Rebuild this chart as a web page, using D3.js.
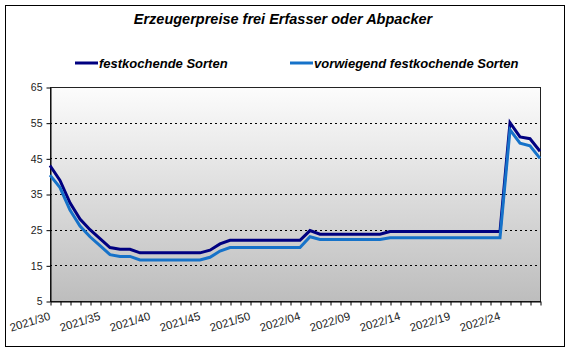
<!DOCTYPE html>
<html>
<head>
<meta charset="utf-8">
<script src="https://cdn.jsdelivr.net/npm/d3@7"></script>
<style>
  body { margin: 0; background: #fff; }
  svg { display: block; font-family: "Liberation Sans", Arial, sans-serif; }
</style>
</head>
<body>
<div id="chart"></div>
<script>
// weeks (one week around new year has no quote)
var weeks = [];
for (var w = 30; w <= 52; w++) weeks.push("2021/" + w);
weeks.push("2022/02", "2022/03");
for (var w2 = 4; w2 <= 28; w2++) weeks.push("2022/" + (w2 < 10 ? "0" + w2 : w2));

var festkochend = [
  43, 38.8, 32.5, 28, 25, 22.5, 20, 19.5, 19.5, 18.5,
  18.5, 18.5, 18.5, 18.5, 18.5, 18.5, 19.25, 21, 22, 22,
  22, 22, 22, 22, 22, 22, 24.75, 23.75, 23.75, 23.75,
  23.75, 23.75, 23.75, 23.75, 24.5, 24.5, 24.5, 24.5, 24.5, 24.5,
  24.5, 24.5, 24.5, 24.5, 24.5, 24.5, 55, 51, 50.5, 47
];
var vorwiegend = [
  40.3, 36.8, 30.5, 26, 23, 20.5, 18, 17.5, 17.5, 16.5,
  16.5, 16.5, 16.5, 16.5, 16.5, 16.5, 17.25, 19, 20, 20,
  20, 20, 20, 20, 20, 20, 23, 22.25, 22.25, 22.25,
  22.25, 22.25, 22.25, 22.25, 22.75, 22.75, 22.75, 22.75, 22.75, 22.75,
  22.75, 22.75, 22.75, 22.75, 22.75, 22.75, 53, 49.25, 48.5, 45
];
var yTicks = [5, 15, 25, 35, 45, 55, 65];
var seriesNames = ["festkochende Sorten", "vorwiegend festkochende Sorten"];
var seriesColors = ["#000080", "#1672c9"];

var width = 570, height = 352;
var plotLeft = 50, plotRight = 540, plotTop = 87, plotBottom = 301;

var svg = d3.select("#chart").append("svg")
    .attr("width", width)
    .attr("height", height);

// outer frame
svg.append("rect")
    .attr("x", 5.5).attr("y", 5.5)
    .attr("width", 559).attr("height", 341)
    .attr("fill", "#fff")
    .attr("stroke", "#000")
    .attr("stroke-width", 1);

var defs = svg.append("defs");
var grad = defs.append("linearGradient")
    .attr("id", "plotBg")
    .attr("x1", 0).attr("y1", 0).attr("x2", 0).attr("y2", 1);
grad.append("stop").attr("offset", "0%").attr("stop-color", "#fcfcfc");
grad.append("stop").attr("offset", "100%").attr("stop-color", "#bdbdbd");

var x = d3.scalePoint().domain(weeks).range([plotLeft, plotRight]);
var y = d3.scaleLinear().domain([5, 65]).range([plotBottom, plotTop]);

// plot area
svg.append("rect")
    .attr("x", plotLeft + 0.5).attr("y", plotTop + 0.5)
    .attr("width", plotRight - plotLeft).attr("height", plotBottom - plotTop)
    .attr("fill", "url(#plotBg)")
    .attr("stroke", "#222")
    .attr("stroke-width", 1);

// grid
svg.append("g").selectAll("line")
    .data(yTicks.filter(function(d) { return d > 5 && d < 65; }))
    .enter().append("line")
    .attr("x1", plotLeft).attr("x2", plotRight)
    .attr("y1", function(d) { return Math.round(y(d)) + 0.5; })
    .attr("y2", function(d) { return Math.round(y(d)) + 0.5; })
    .attr("stroke", "#000")
    .attr("stroke-width", 1)
    .attr("stroke-dasharray", "2,3");

// y axis
var yAxis = svg.append("g")
    .attr("transform", "translate(" + (plotLeft + 0.5) + ",0.5)")
    .call(d3.axisLeft(y).tickValues(yTicks).tickSize(4).tickPadding(4).tickSizeOuter(0));
yAxis.select(".domain").attr("stroke", "#000");
yAxis.selectAll("text")
    .attr("font-size", "10.5px")
    .attr("fill", "#222")
    .attr("font-family", "Liberation Sans, Arial, sans-serif");

// x axis
var xAxis = svg.append("g")
    .attr("transform", "translate(0.5," + (plotBottom + 0.5) + ")")
    .call(d3.axisBottom(x).tickSize(4).tickSizeOuter(0)
      .tickFormat(function(d, i) { return i % 5 == 0 ? d : ""; }));
xAxis.select(".domain").attr("stroke", "#000");
xAxis.selectAll(".tick line").attr("stroke", "#000");
xAxis.selectAll("text")
    .attr("font-size", "11.5px")
    .attr("fill", "#222")
    .attr("font-family", "Liberation Sans, Arial, sans-serif")
    .attr("text-anchor", "end")
    .attr("dy", null)
    .attr("y", 0)
    .attr("transform", "translate(0,18) rotate(-17)");

// lines
var line = d3.line()
    .x(function(d, i) { return x(weeks[i]); })
    .y(function(d) { return y(d); });

[festkochend, vorwiegend].forEach(function(s, k) {
  svg.append("path")
      .datum(s)
      .attr("d", line)
      .attr("fill", "none")
      .attr("stroke", seriesColors[k])
      .attr("stroke-width", 3)
      .attr("stroke-linejoin", "miter");
});

// title
svg.append("text")
    .attr("x", 283).attr("y", 24)
    .attr("text-anchor", "middle")
    .attr("font-size", "14.5px")
    .attr("font-weight", "bold")
    .attr("font-style", "italic")
    .text("Erzeugerpreise frei Erfasser oder Abpacker");

// legend
var legendPos = [75, 290];
var legend = svg.append("g");
legend.selectAll("g")
    .data(seriesNames)
    .enter().append("g")
    .each(function(d, i) {
      var g = d3.select(this);
      g.append("line")
          .attr("x1", legendPos[i]).attr("x2", legendPos[i] + 23)
          .attr("y1", 63).attr("y2", 63)
          .attr("stroke", seriesColors[i])
          .attr("stroke-width", 3);
      g.append("text")
          .attr("x", legendPos[i] + 24).attr("y", 67.5)
          .attr("font-size", "13px")
          .attr("font-weight", "bold")
          .attr("font-style", "italic")
          .text(d);
    });
</script>
</body>
</html>
